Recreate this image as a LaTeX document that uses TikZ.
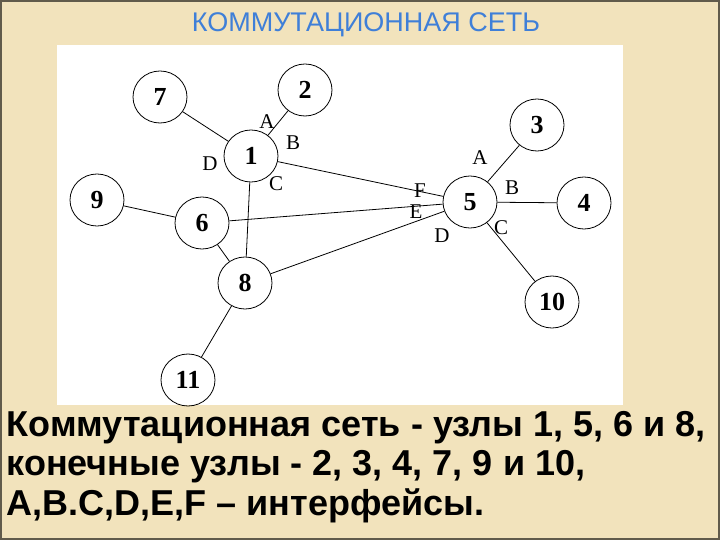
\documentclass[tikz,border=0pt]{standalone}
\usepackage{fontspec}
\setmainfont{Liberation Sans}
\newfontfamily\serifb{Liberation Serif}
\usetikzlibrary{shapes.geometric}
\definecolor{bg}{HTML}{F2E3BC}
\definecolor{ttl}{HTML}{3F7FD8}
\begin{document}
\begin{tikzpicture}[x=1pt,y=-1pt,
  nd/.style={draw,thick,ellipse,minimum width=54pt,minimum height=52pt,inner sep=0pt,font=\serifb\bfseries\fontsize{26}{26}\selectfont},
  lb/.style={font=\serifb\fontsize{21}{21}\selectfont},
  ln/.style={line width=0.8pt}]
\fill[bg] (0,0) rectangle (720,540);
\draw[line width=2pt,black!60!bg] (1,1) rectangle (719,539);
\fill[white] (57,45) rectangle (623,405);
\node[text=ttl,font=\fontsize{27}{27}\selectfont] (t) at (366,25) {КОММУТАЦИОННАЯ СЕТЬ};
\node[nd] (n7) at (160,97) {7};
\node[nd] (n2) at (305,90) {2};
\node[nd] (n1) at (251,156) {1};
\node[nd] (n3) at (537,125) {3};
\node[nd] (n9) at (97,200) {9};
\node[nd] (n6) at (202,223) {6};
\node[nd] (n5) at (470,202) {5};
\node[nd] (n4) at (584,203) {4};
\node[nd] (n8) at (245,283) {8};
\node[nd] (n10) at (552,302) {10};
\node[nd] (n11) at (188,380) {11};
\foreach \a/\b in {n7/n1,n2/n1,n1/n5,n1/n8,n9/n6,n6/n5,n8/n5,n6/n8,n8/n11,n5/n3,n5/n4,n5/n10}
  \draw[ln] (\a) -- (\b);
\node[lb] (la1) at (267,122) {A};
\node[lb] (lb1) at (293,143) {B};
\node[lb] (ld1) at (210,164) {D};
\node[lb] (lc1) at (276,184) {C};
\node[lb] (la5) at (480,158) {A};
\node[lb] (lb5) at (512,188) {B};
\node[lb] (lf5) at (420,191) {F};
\node[lb] (le5) at (416,212) {E};
\node[lb] (ld5) at (442,236) {D};
\node[lb] (lc5) at (501,228) {C};
\node[anchor=west,align=left,font=\bfseries\fontsize{36}{39.5}\selectfont] (txt) at (3,467)
{Коммутационная сеть - узлы 1, 5, 6 и 8,\\конечные узлы - 2, 3, 4, 7, 9 и 10,\\A,B.C,D,E,F – интерфейсы.};
\end{tikzpicture}
\end{document}
